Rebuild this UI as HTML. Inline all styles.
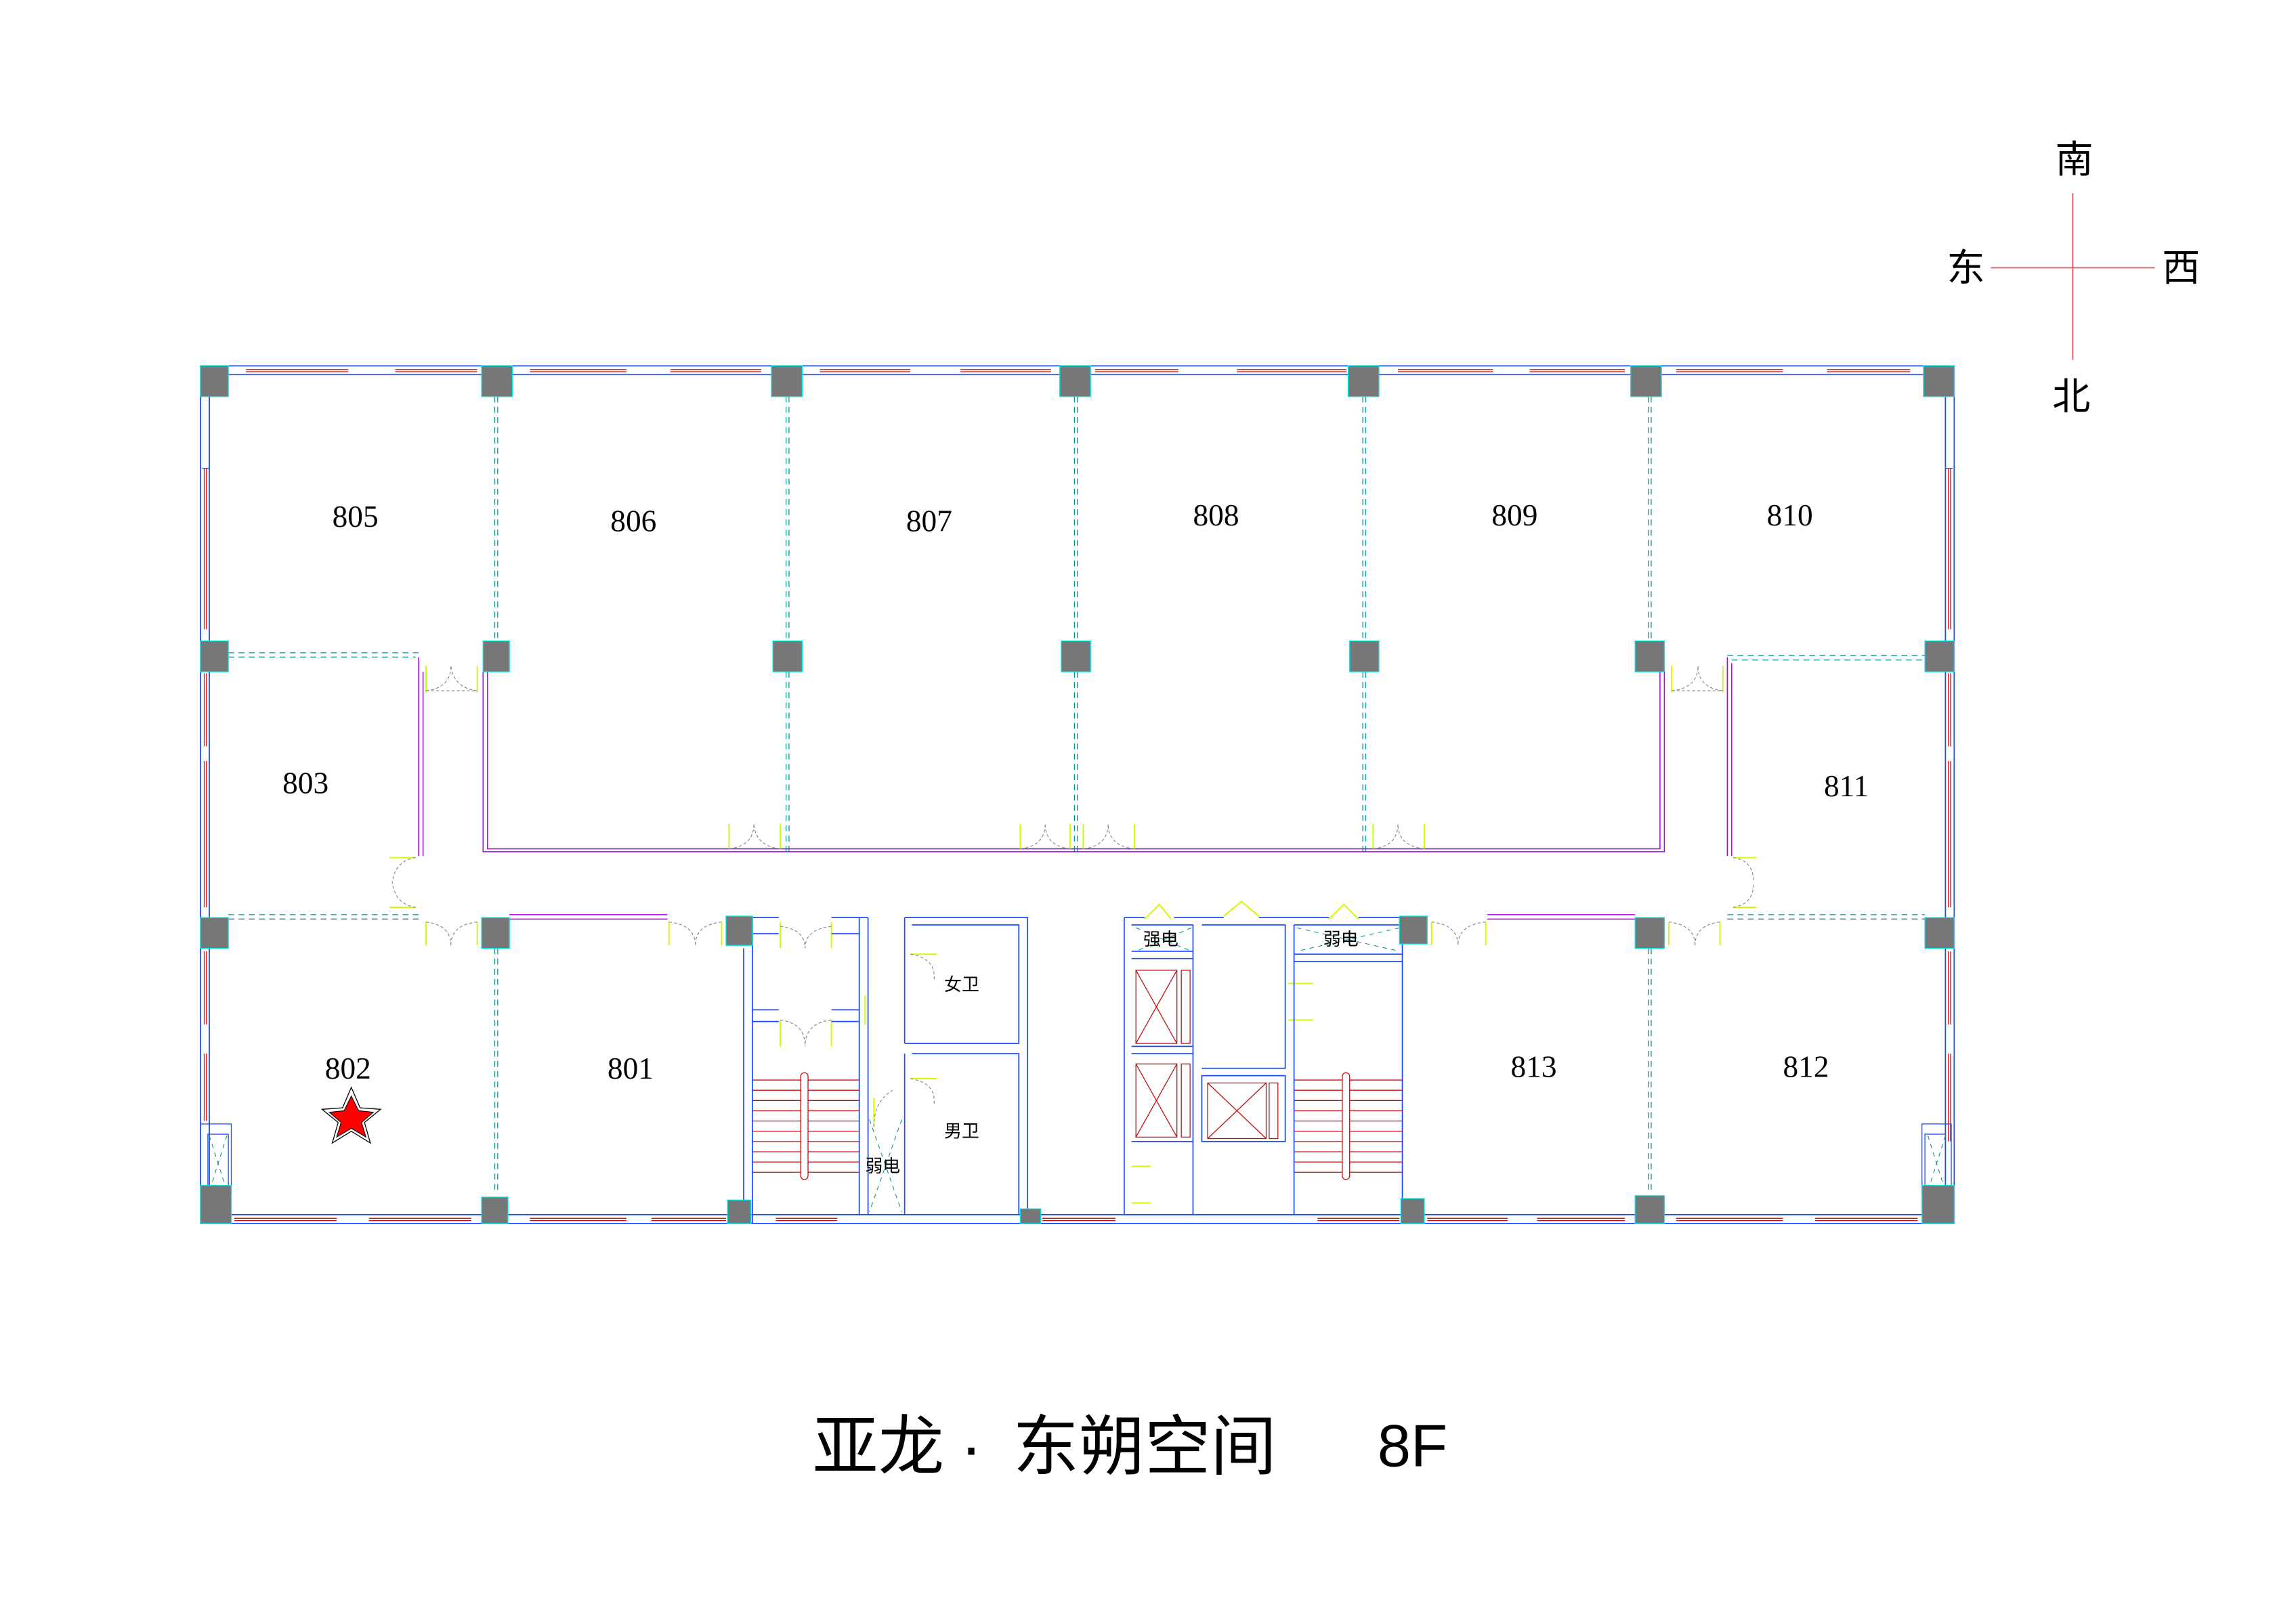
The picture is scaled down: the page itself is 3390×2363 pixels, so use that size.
<!DOCTYPE html>
<html><head><meta charset="utf-8"><style>
html,body{margin:0;padding:0;background:#fff;}
svg{display:block;}
text{font-family:"Liberation Serif","Noto Serif CJK SC",serif;fill:#000;}
.cj{font-family:"Liberation Sans","Noto Sans CJK SC",sans-serif;}
</style></head><body>
<svg width="3390" height="2363" viewBox="0 0 1568.5 1093.3" preserveAspectRatio="none" xmlns="http://www.w3.org/2000/svg">
<rect width="1570" height="1094" fill="#fff"/>
<!-- compass -->
<g stroke="#e05060" stroke-width="0.8">
<line x1="1416" y1="132" x2="1416" y2="246"/>
<line x1="1360" y1="183" x2="1472" y2="183"/>
</g>
<g class="cj" font-size="26">
<text class="cj" x="1404" y="118">南</text>
<text class="cj" x="1330" y="192">东</text>
<text class="cj" x="1477" y="192">西</text>
<text class="cj" x="1402" y="280">北</text>
</g>
<!-- outer walls -->
<g fill="none" stroke="#1a4cff" stroke-width="0.8">
<rect x="137" y="250" width="1198" height="586"/>
<line x1="143" y1="256" x2="1329" y2="256"/>
<line x1="143" y1="830" x2="1329" y2="830"/>
<line x1="143" y1="256" x2="143" y2="830"/>
<line x1="1329" y1="256" x2="1329" y2="830"/>
</g>
<!-- windows -->
<g stroke="#d01010" stroke-width="0.6">
<path d="M168 252.5H238M168 254H238M270 252.5H326M270 254H326M362 252.5H428M362 254H428M458 252.5H520M458 254H520M560 252.5H622M560 254H622M656 252.5H718M656 254H718M748 252.5H805M748 254H805M845 252.5H920M845 254H920M955 252.5H1020M955 254H1020M1045 252.5H1110M1045 254H1110M1145 252.5H1218M1145 254H1218M1248 252.5H1305M1248 254H1305"/>
<path d="M160 832.5H230M160 834H230M252 832.5H322M252 834H322M362 832.5H428M362 834H428M445 832.5H496M445 834H496M530 832.5H572M530 834H572M712 832.5H762M712 834H762M900 832.5H956M900 834H956M975 832.5H1030M975 834H1030M1050 832.5H1110M1050 834H1110M1145 832.5H1218M1145 834H1218M1240 832.5H1310M1240 834H1310"/>
<path d="M139.5 320V430M141 320V430M139.5 460V510M141 460V510M139.5 520V620M141 520V620M139.5 650V700M141 650V700M139.5 720V766M141 720V766"/>
<path d="M1331 320V430M1332.5 320V430M1331 460V510M1332.5 460V510M1331 520V620M1332.5 520V620M1331 650V700M1331 720V780M1332.5 720V780M1332.5 650V700"/>
</g>
<!-- corner shafts -->
<g fill="none" stroke="#1a4cff" stroke-width="0.6">
<rect x="137" y="768" width="21" height="48"/>
<rect x="142" y="775" width="14" height="40"/>
<rect x="1313" y="768" width="20" height="48"/>
<rect x="1315" y="775" width="14" height="40"/>
<path d="M143 271V320H138M1329 271V320H1334"/>
</g>
<!-- partition dashed (teal) -->
<g stroke="#109090" stroke-width="0.6" stroke-dasharray="4 3" fill="none">
<path d="M338 271V438M340 271V438M537 271V438M539 271V438M734 271V438M736 271V438M931 271V438M933 271V438M1126 271V438M1128 271V438"/>
<path d="M338 648V816M340 648V816M1126 648V816M1128 648V816"/>
<path d="M156 446H286M156 449H284"/>
<path d="M1180 448H1315M1183 451H1315"/>
<path d="M156 625H286M156 628H286M1180 625H1315M1180 628H1315"/>
<path d="M537 459V582M539 459V582M734 459V582M736 459V582M931 459V582M933 459V582"/>
</g>
<!-- magenta walls -->
<g stroke="#b000f0" stroke-width="0.7" fill="none">
<path d="M330 459V582H1137V459M333 459V580H1134V459"/>
<path d="M286 449V585M289 459V585"/>
<path d="M1180 449V585M1183 453V585"/>
<path d="M348 625H456M348 628H456"/>
<path d="M1016 625H1117M1016 628H1117"/>
</g>
<!-- doors -->
<g stroke="#c8ff00" stroke-width="0.9" fill="none">
<path d="M291 455V473M326 455V473M498 563V580M533 563V580M697 563V580M731 563V580M740 563V580M775 563V580M938 563V580M973 563V580M1142 455V473M1177 455V473"/>
<path d="M266 586H284M266 620H284M1184 586H1200M1184 620H1200"/>
<path d="M291 630V646M326 630V646M457 630V646M493 630V646M533 630V648M568 630V648M533 697V715M568 697V715M978 630V646M1015 630V646M1140 630V646M1175 630V646"/>
<path d="M782 628L792 618L800 628M836 626L848 616L860 626M908 628L918 618L928 628"/>
<path d="M622 652H640M622 737H640M880 672H897M880 697H897M773 797H786M773 822H786M591 680V700M597 750V770"/>
</g>
<g stroke="#808080" stroke-width="0.5" fill="none" stroke-dasharray="2 1.5">
<path d="M291 472Q308 470 308 455M326 472Q310 470 308 455M291 472H326"/>
<path d="M1142 472Q1160 470 1160 455M1177 472Q1160 470 1160 455M1142 472H1177"/>
<path d="M498 580Q515 578 515 563M533 580Q516 578 515 563M697 580Q714 578 714 563M731 580Q714 578 714 563M740 580Q757 578 757 563M775 580Q757 578 757 563M938 580Q955 578 955 563M973 580Q955 578 955 563"/>
<path d="M291 630Q308 632 308 646M326 630Q308 632 308 646M457 630Q475 632 475 646M493 630Q475 632 475 646M978 630Q996 632 996 646M1015 630Q996 632 996 646M1140 630Q1158 632 1158 646M1175 630Q1158 632 1158 646"/>
<path d="M533 633Q550 635 550 648M568 633Q550 635 550 648M533 697Q550 699 550 715M568 697Q550 699 550 715"/>
<path d="M284 586Q270 588 268 603M284 620Q270 618 268 603M1184 586Q1198 588 1198 603M1184 620Q1198 618 1198 603"/>
<path d="M622 652Q640 655 638 670M622 737Q640 740 638 755M597 770Q597 752 610 745"/>
</g>
<!-- core walls -->
<g stroke="#1a4cff" stroke-width="0.8" fill="none">
<path d="M514 627V830M508 648V830M587 627V830M593 627V830"/>
<path d="M514 627H532M568 627H593M514 638H532M568 638H587"/>
<path d="M514 690H532M568 690H587M514 698H532M568 698H587"/>
<path d="M618 627H702V830M618 627V713M623 632H696V713H623M623 720H696V830M618 720V830M618 713H696"/>
<path d="M768 627H782M802 627H836M860 627H908M928 627H958V830M768 627V830H958M773 632H815V830M821 632H878V730H821M821 735H878V780H821Z"/>
<path d="M773 650H815M773 655H815M773 715H815M773 720H815M773 780H815"/>
<path d="M884 632H958M884 652H958M884 657H958M884 632V830"/>
<path d="M514 830V836M700 836H760"/>
</g>
<!-- elevators & stairs -->
<g stroke="#c01010" stroke-width="0.6" fill="none">
<rect x="776" y="663" width="28" height="50"/><path d="M776 663L804 713M804 663L776 713"/><rect x="807" y="663" width="6" height="50"/>
<rect x="776" y="727" width="28" height="50"/><path d="M776 727L804 777M804 727L776 777"/><rect x="807" y="727" width="6" height="50"/>
<rect x="825" y="740" width="40" height="38"/><path d="M825 740L865 778M865 740L825 778"/><rect x="867" y="740" width="6" height="38"/>
<path d="M514 738H587M514 745H587M514 752H587M514 759H587M514 766H587M514 773H587M514 780H587M514 787H587M514 794H587M514 801H587"/>
<path d="M884 738H958M884 745H958M884 752H958M884 759H958M884 766H958M884 773H958M884 780H958M884 787H958M884 794H958M884 801H958"/>
<rect x="547" y="733" width="5" height="73" rx="2.5" fill="#fff"/>
<rect x="917" y="733" width="5" height="73" rx="2.5" fill="#fff"/>
</g>
<g stroke="#109090" stroke-width="0.5" stroke-dasharray="3 3" fill="none">
<path d="M594 765L616 828M616 765L594 828M776 634L814 650M814 634L776 650M886 634L956 650M956 634L886 650M143 776L155 814M155 776L143 814M1317 776L1329 814M1329 776L1317 814"/>
</g>
<!-- columns -->
<g fill="#777" stroke="#00e5e5" stroke-width="0.6">
<rect x="137" y="250" width="19" height="21"/><rect x="329" y="250" width="21" height="21"/><rect x="527" y="250" width="21" height="21"/><rect x="724" y="250" width="21" height="21"/><rect x="921" y="250" width="21" height="21"/><rect x="1114" y="250" width="21" height="21"/><rect x="1314" y="250" width="21" height="21"/>
<rect x="137" y="438" width="19" height="21"/><rect x="330" y="438" width="18" height="21"/><rect x="528" y="438" width="20" height="21"/><rect x="725" y="438" width="20" height="21"/><rect x="922" y="438" width="20" height="21"/><rect x="1117" y="438" width="20" height="21"/><rect x="1315" y="438" width="20" height="21"/>
<rect x="137" y="627" width="19" height="21"/><rect x="329" y="627" width="19" height="21"/><rect x="496" y="626" width="18" height="20"/><rect x="956" y="626" width="19" height="19"/><rect x="1117" y="627" width="20" height="21"/><rect x="1315" y="627" width="20" height="21"/>
<rect x="137" y="810" width="21" height="26"/><rect x="329" y="818" width="18" height="18"/><rect x="497" y="820" width="16" height="16"/><rect x="697" y="826" width="14" height="10"/><rect x="957" y="819" width="16" height="17"/><rect x="1117" y="817" width="20" height="19"/><rect x="1313" y="810" width="22" height="26"/>
</g>
<!-- star -->
<polygon points="240,743 246,757 260,758 249,767 253,781 240,773 227,781 231,767 220,758 234,757" fill="none" stroke="#000" stroke-width="0.6"/>
<polygon points="240,749 245,759 255,760 247,767 250,777 240,771 230,777 233,767 225,760 235,759" fill="#f00" stroke="#000" stroke-width="0.5"/>
<!-- room labels -->
<g font-size="21">
<text x="227" y="360">805</text><text x="417" y="363">806</text><text x="619" y="363">807</text><text x="815" y="359">808</text><text x="1019" y="359">809</text><text x="1207" y="359">810</text>
<text x="193" y="542">803</text><text x="1246" y="544">811</text>
<text x="222" y="737">802</text><text x="415" y="737">801</text><text x="1032" y="736">813</text><text x="1218" y="736">812</text>
</g>
<g font-size="12">
<text class="cj" x="645" y="677">女卫</text><text class="cj" x="645" y="777">男卫</text><text class="cj" x="591" y="801">弱电</text>
<text class="cj" x="781" y="646">强电</text><text class="cj" x="904" y="646">弱电</text>
</g>
<text class="cj" x="555" y="1004" font-size="45">亚龙</text>
<text class="cj" x="656" y="1004" font-size="45">·</text>
<text class="cj" x="692" y="1004" font-size="45">东朔空间</text>
<text class="cj" x="941" y="1002" font-size="41">8F</text>
</svg>
</body></html>
